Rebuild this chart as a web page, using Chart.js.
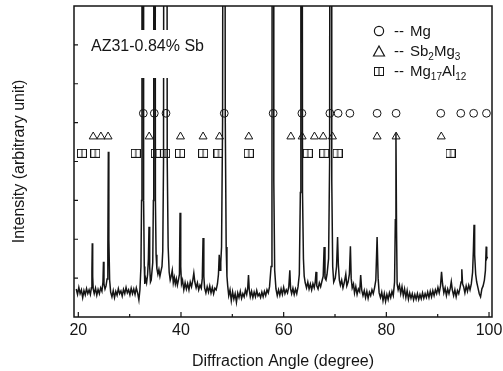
<!DOCTYPE html>
<html>
<head>
<meta charset="utf-8">
<script src="https://cdn.jsdelivr.net/npm/chart.js@4.4.0/dist/chart.umd.min.js"></script>
<style>
  html, body { margin: 0; padding: 0; background: #fff; }
</style>
</head>
<body>
<canvas id="xrdChart" width="503" height="371"></canvas>
<script>
const trace = [
  [19.6,.72],[19.85,.58],[20.1,.76],[20.35,.6],[20.6,.7],[20.85,.5],[21.1,.68],[21.35,.57],[21.6,.73],[21.85,.6],
  [22.1,.7],[22.35,.58],[22.55,.75],[22.65,1.2],[22.72,1.9],[22.8,1.05],[22.9,.72],[23.1,.6],[23.35,.74],[23.6,.56],
  [23.85,.71],[24.1,.6],[24.35,.75],[24.6,.66],[24.8,.9],[24.9,1.42],[25.0,.85],[25.2,.72],[25.4,.8],[25.6,.98],
  [25.75,1.7],[25.85,4.25],[25.95,2.0],[26.1,.95],[26.3,.64],[26.55,.52],[26.8,.68],[27.05,.5],[27.3,.66],[27.55,.56],
  [27.8,.73],[28.05,.6],[28.3,.67],[28.55,.54],[28.8,.71],[29.05,.6],[29.3,.76],[29.55,.62],[29.8,.7],[30.05,.57],
  [30.3,.74],[30.55,.6],[30.8,.72],[31.05,.58],[31.3,.75],[31.55,.62],[31.8,.44],[32.0,.7],
  [32.2,1.3],[32.32,3.0],[32.4,20],[32.62,20],[32.72,3.0],[32.85,1.3],
  [32.95,.85],[33.1,1.0],[33.3,.88],[33.5,1.1],[33.65,1.5],[33.77,2.32],[33.9,1.3],[34.05,.9],[34.2,.95],
  [34.5,1.4],[34.62,3.0],[34.7,20],[34.92,20],[35.02,3.0],[35.15,1.6],
  [35.3,1.25],[35.5,1.1],[35.7,1.22],[35.9,1.05],[36.1,1.18],[36.3,1.3],
  [36.45,1.7],[36.6,4.0],[36.7,20],[37.22,20],[37.32,4.0],[37.5,1.8],
  [37.7,1.15],[37.9,.95],[38.1,1.05],[38.3,1.2],[38.5,.88],[38.7,1.02],[38.9,.85],[39.1,.98],[39.3,.82],[39.5,.95],
  [39.7,1.1],[39.82,2.68],[39.95,1.3],[40.1,.85],[40.3,.95],[40.55,.7],[40.8,.88],[41.05,.72],[41.3,.86],[41.55,.7],
  [41.8,.9],[42.05,.78],[42.3,.95],[42.5,1.13],[42.7,.9],[42.95,.75],[43.2,.88],[43.45,.7],[43.7,.82],[43.95,.74],
  [44.15,1.0],[44.3,2.03],[44.45,1.05],[44.6,.75],[44.85,.62],[45.1,.78],[45.35,.64],[45.6,.8],[45.85,.62],[46.1,.76],
  [46.35,.6],[46.6,.74],[46.85,.7],[47.1,.85],[47.3,1.1],[47.45,1.6],[47.6,1.2],[47.75,1.4],
  [47.9,1.8],[48.1,5.0],[48.25,20],[48.48,20],[48.63,5.0],[48.8,1.8],
  [48.95,1.05],[49.1,.8],[49.3,.55],[49.55,.7],[49.8,.42],[50.05,.65],[50.3,.46],[50.55,.6],[50.8,.38],[51.05,.62],
  [51.3,.5],[51.55,.66],[51.8,.48],[52.05,.6],[52.3,.52],[52.55,.7],[52.8,.58],[53.0,.75],[53.15,1.08],[53.3,.7],
  [53.5,.52],[53.75,.66],[54.0,.5],[54.25,.64],[54.5,.52],[54.75,.68],[55.0,.54],[55.25,.6],[55.5,.5],[55.75,.64],
  [56.0,.52],[56.25,.66],[56.5,.55],[56.75,.7],[57.0,.62],[57.25,.78],
  [57.55,1.3],[57.72,3.5],[57.8,20],[58.0,20],[58.08,3.5],[58.25,1.2],
  [58.5,.72],[58.75,.55],[59.0,.7],[59.25,.56],[59.5,.72],[59.75,.58],[60.0,.76],[60.25,.6],[60.5,.7],[60.75,.62],
  [61.0,.78],[61.2,1.2],[61.35,.72],[61.55,.6],[61.8,.74],[62.05,.58],[62.3,.72],[62.55,.6],[62.8,.78],
  [63.05,1.1],[63.25,3.2],[63.35,20],[63.57,20],[63.67,3.2],[63.85,1.5],
  [64.0,1.05],[64.2,.88],[64.45,.75],[64.7,.9],[64.95,.72],[65.2,.85],[65.45,.7],[65.7,.86],[65.95,.75],[66.15,.9],
  [66.3,1.16],[66.45,.8],[66.7,.72],[66.95,.88],[67.2,.78],[67.45,.92],[67.7,1.05],[67.88,1.8],[68.05,1.0],[68.25,.95],
  [68.45,1.1],
  [68.75,1.5],[68.95,4.0],[69.05,20],[69.27,20],[69.37,3.5],[69.55,1.3],
  [69.75,.9],[70.05,1.0],[70.3,1.3],[70.5,2.06],[70.65,1.35],[70.85,.95],[71.05,.82],[71.3,.95],[71.55,.75],[71.8,.88],
  [72.1,1.1],[72.3,.8],[72.55,.9],[72.8,1.1],[73.0,1.82],[73.15,1.0],[73.35,.75],[73.6,.85],[73.8,.62],[74.05,.78],
  [74.3,.58],[74.55,.72],[74.8,.65],[75.0,1.08],[75.2,.7],[75.45,.55],[75.7,.68],[75.95,.5],[76.2,.66],[76.45,.48],
  [76.7,.64],[76.95,.55],[77.2,.7],[77.45,.6],[77.7,.75],[77.95,.95],[78.2,2.06],[78.4,1.0],[78.6,.62],[78.85,.5],
  [79.1,.64],[79.35,.42],[79.6,.6],[79.85,.4],[80.1,.58],[80.35,.45],[80.6,.62],[80.85,.5],[81.1,.66],[81.35,.55],
  [81.6,.9],[81.75,2.5],[81.87,4.73],[81.99,2.2],[82.1,.85],[82.3,.7],[82.55,.82],[82.8,.6],[83.05,.78],[83.3,.55],
  [83.55,.72],[83.8,.5],[84.05,.68],[84.3,.46],[84.55,.62],[84.8,.48],[85.05,.6],[85.3,.44],[85.55,.58],[85.8,.46],
  [86.05,.6],[86.3,.45],[86.55,.58],[86.8,.47],[87.05,.62],[87.3,.48],[87.55,.6],[87.8,.5],[88.05,.64],[88.3,.5],
  [88.55,.66],[88.8,.52],[89.05,.68],[89.3,.55],[89.55,.7],[89.8,.6],[90.05,.76],[90.3,.62],[90.55,.8],[90.75,1.16],
  [90.95,.85],[91.2,.62],[91.45,.75],[91.7,.55],[91.95,.72],[92.2,.6],[92.45,.74],[92.65,.91],[92.85,.7],[93.1,.55],
  [93.35,.7],[93.6,.52],[93.85,.68],[94.1,.6],[94.35,.75],[94.55,.9],[94.7,1.23],[94.85,.85],[95.05,.78],[95.3,.62],
  [95.55,.8],[95.8,.66],[96.05,.82],[96.3,.7],[96.55,.85],[96.8,1.15],[96.95,1.7],[97.08,2.37],[97.2,1.6],[97.4,1.1],
  [97.6,.9],[97.85,.75],[98.1,.6],[98.35,.52],[98.6,.72],[98.85,.8],[99.1,.95],[99.3,1.2],[99.45,1.81],[99.55,1.5],
  [99.7,1.55]
];

// phase reflections (deg)
const mgPeaks   = [32.66, 34.8, 37.08, 48.43, 57.95, 63.55, 69.0, 70.6, 72.9, 78.2, 81.9, 90.6, 94.5, 97.0, 99.5];
const sbMgPeaks = [22.9, 24.4, 25.8, 33.8, 39.9, 44.3, 47.5, 53.2, 61.4, 63.6, 66.0, 67.7, 69.5, 78.2, 81.9, 90.7];
const mgAlPeaks = [20.7, 23.3, 31.2, 35.1, 36.9, 39.8, 44.3, 47.3, 53.2, 64.7, 67.9, 70.5, 92.5];

const xTicks = [20, 40, 60, 80, 100];
const xMinor = [30, 50, 70, 90];
const yTicks = [1, 2, 3, 4, 5, 6, 7];

const ink = '#151515';
const FONT = "'Liberation Sans', Arial, Helvetica, sans-serif";
Chart.defaults.font.family = FONT;
Chart.defaults.color = ink;

// square with a vertical bar, as in the figure
const boxMark = document.createElement('canvas');
boxMark.width = 10; boxMark.height = 9;
(function () {
  const c = boxMark.getContext('2d');
  c.strokeStyle = ink; c.lineWidth = 1;
  c.strokeRect(0.5, 0.5, 9, 8);
  c.beginPath(); c.moveTo(5, 0.5); c.lineTo(5, 8.5); c.stroke();
})();

function row(list, level) {
  return list.map(a => ({ x: a, y: level }));
}

const decorations = {
  id: 'decorations',
  afterDraw(chart) {
    const { ctx, chartArea: a, scales: { x, y } } = chart;
    ctx.save();

    // sample label sits on a white box that hides the peak lines behind it
    ctx.fillStyle = '#fff';
    ctx.fillRect(86, 30, 128, 48);

    ctx.strokeStyle = ink;
    ctx.lineWidth = 1.5;
    ctx.strokeRect(a.left, a.top, a.right - a.left, a.bottom - a.top);

    ctx.lineWidth = 1.2;
    ctx.beginPath();
    xTicks.forEach(v => { const p = x.getPixelForValue(v); ctx.moveTo(p, a.bottom); ctx.lineTo(p, a.bottom - 5); });
    xMinor.forEach(v => { const p = x.getPixelForValue(v); ctx.moveTo(p, a.bottom); ctx.lineTo(p, a.bottom - 3); });
    yTicks.forEach(v => { const p = y.getPixelForValue(v); ctx.moveTo(a.left, p); ctx.lineTo(a.left + 4, p); });
    ctx.stroke();

    ctx.fillStyle = ink;
    ctx.textBaseline = 'alphabetic';
    ctx.font = '16px ' + FONT;
    ctx.fillText('AZ31-0.84% Sb', 91, 51);

    // key
    const kx = 379;
    ctx.lineWidth = 1.2;
    ctx.beginPath(); ctx.arc(kx, 31, 4.6, 0, Math.PI * 2); ctx.stroke();
    ctx.beginPath(); ctx.moveTo(kx, 46); ctx.lineTo(kx + 5.5, 56); ctx.lineTo(kx - 5.5, 56); ctx.closePath(); ctx.stroke();
    ctx.drawImage(boxMark, kx - 5, 67);

    const parts = [
      [36, [['Mg', 0]]],
      [56, [['Sb', 0], ['2', 1], ['Mg', 0], ['3', 1]]],
      [76, [['Mg', 0], ['17', 1], ['Al', 0], ['12', 1]]]
    ];
    parts.forEach(([base, segs]) => {
      ctx.font = '15px ' + FONT;
      ctx.fillText('--', 394, base);
      let tx = 410;
      segs.forEach(([t, sub]) => {
        ctx.font = (sub ? '10px ' : '15px ') + FONT;
        ctx.fillText(t, tx, base + (sub ? 4 : 0));
        tx += ctx.measureText(t).width;
      });
    });
    ctx.restore();
  }
};

new Chart(document.getElementById('xrdChart').getContext('2d'), {
  type: 'line',
  data: {
    datasets: [
      { data: trace.map(p => ({ x: p[0], y: p[1] })), borderColor: ink, borderWidth: 1.5,
        pointRadius: 0, tension: 0, fill: false, order: 2 },
      { data: row(mgPeaks, 5.24), showLine: false, pointStyle: 'circle', pointRadius: 3.9,
        borderColor: ink, backgroundColor: 'rgba(0,0,0,0)', pointBorderWidth: 1, order: 1 },
      { data: row(sbMgPeaks, 4.64), showLine: false, pointStyle: 'triangle', pointRadius: 4.6,
        borderColor: ink, backgroundColor: 'rgba(0,0,0,0)', pointBorderWidth: 1, order: 1 },
      { data: row(mgAlPeaks, 4.21), showLine: false, pointStyle: boxMark, order: 1 }
    ]
  },
  options: {
    responsive: false,
    animation: false,
    devicePixelRatio: 1,
    layout: { padding: { top: 6, right: 11, left: 10, bottom: 0 } },
    plugins: { legend: { display: false }, tooltip: { enabled: false } },
    scales: {
      x: {
        type: 'linear', min: 19.16, max: 100.58,
        afterBuildTicks: s => { s.ticks = xTicks.map(v => ({ value: v })); },
        afterFit: s => { s.height = 54; s.paddingLeft = 0; s.paddingRight = 0; },
        grid: { display: false, drawTicks: false },
        border: { display: false },
        ticks: { font: { size: 16 }, padding: 4, maxRotation: 0, color: ink },
        title: { display: true, text: 'Diffraction Angle (degree)', font: { size: 16 }, color: ink, padding: { top: 0, bottom: 0 } }
      },
      y: {
        type: 'linear', min: 0, max: 8,
        afterFit: s => { s.width = 64; },
        grid: { display: false, drawTicks: false },
        border: { display: false },
        ticks: { display: false },
        title: { display: true, text: 'Intensity (arbitrary unit)', font: { size: 16 }, color: ink, padding: 0 }
      }
    }
  },
  plugins: [decorations]
});
</script>
</body>
</html>
